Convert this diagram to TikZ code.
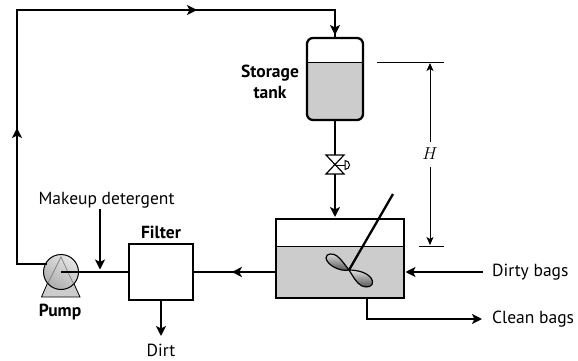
\documentclass[tikz,border=0pt]{standalone}
\usepackage{fontspec}
\setsansfont{PT Sans}
\usetikzlibrary{arrows.meta,decorations.markings,calc}
\definecolor{liquid}{gray}{0.8}
\tikzset{
  x=1pt,y=-1pt,
  pipe/.style={line width=2.3pt,draw=black},
  thin pipe/.style={line width=1.2pt,draw=black},
  tipend/.style={-{Stealth[length=10pt,width=10pt,inset=2.5pt]}},
  midtip/.style={postaction={decorate},decoration={markings,mark=at position #1 with {\arrow{Stealth[length=10pt,width=10pt,inset=2.5pt]}}}},
  vessel/.style={draw=black,line width=2.3pt},
  lobe/.style={shading=axis,top color=white!88!black,bottom color=black!70,draw=black,line width=1.2pt},
  lab/.style={font=\sffamily\fontsize{17.5}{20}\selectfont,inner sep=0pt},
  blab/.style={font=\sffamily\bfseries\fontsize{17.5}{21}\selectfont,inner sep=0pt,align=center},
}
\begin{document}
\begin{tikzpicture}
\useasboundingbox (0,0) rectangle (578,361);
% storage tank
\fill[liquid,rounded corners=6pt] (307,62) -- (363,62) -- (363,120) -- (307,120) -- cycle;
\fill[liquid] (307,62) rectangle (363,75);
\node[vessel,minimum width=56pt,minimum height=82pt,rounded corners=6pt,inner sep=0pt] (tank) at (335,79) {};
\coordinate (tankL) at (307,62); \coordinate (tankR) at (363,62);
\draw[line width=.8pt] (tankL) -- (tankR);
% washer
\fill[liquid] (276,246) rectangle (404,298);
\node[vessel,minimum width=128pt,minimum height=79pt,inner sep=0pt] (tub) at (340,258.5) {};
\coordinate (tubL) at (276,246); \coordinate (tubR) at (404,246);
\draw[line width=.8pt] (tubL) -- (tubR);
% filter
\coordinate (pumpC) at (61,272);
\node[draw=black,line width=1.3pt,fill=white,minimum width=64pt,minimum height=56pt,inner sep=0pt] (filter) at (161,272) {};
% pump base + body
\fill[liquid,draw=black,line width=.8pt] (41.5,297) -- (80,297) -- (70,275) -- (51,275) -- cycle;
\node[circle,draw=black,line width=1pt,minimum size=35pt,inner sep=0pt,shading=axis,top color=white!90!black,bottom color=white!68!black,shading angle=-35] (pump) at (pumpC) {};
\draw[gray,line width=.7pt] (48,283) -- (61,257) -- (73,283);
% valve
\coordinate (valve) at (335,165);
\draw[line width=1.2pt,fill=white] (326,155) -- (344,155) -- (326,174) -- (344,174) -- cycle;
\draw[line width=.9pt] (valve) -- (345,165);
\draw[line width=1pt] (345,160.5) arc (90:-90:4.5pt) -- cycle;
% piping
\coordinate (topcorner) at (17,10);
\coordinate (leftturn) at (17,264);
\coordinate (topright) at (335,10);
\coordinate (pumpout) at (46.5,264);
\coordinate (uptip) at (17,128);
\coordinate (toptip) at (197,10);
\draw[pipe] (pumpout) -- (leftturn) -- (topcorner) -- (topright) -- (tank.north);
\draw[pipe,tipend] (17,140) -- (uptip);
\draw[pipe,tipend] (185,10) -- (toptip);
\draw[pipe,tipend] (335,20) -- (335,35);
\draw[pipe] (tank.south) -- (335,155);
\draw[pipe,tipend] (335,174) -- (335,217);
\draw[pipe] (pumpC) -- (filter.west);
\draw[pipe,midtip=0.53] (tub.west |- pumpC) -- (filter.east);
\draw[pipe,tipend] (filter.south) -- (161,336);
\draw[thin pipe,tipend] (100,209) -- (100,269.5);
\coordinate (dirtyend) at (483,272);
\draw[pipe,tipend] (dirtyend) -- (405.5,272);
\coordinate (cleanend) at (482,319);
\draw[pipe,tipend] (367,298) -- (367,319) -- (cleanend);
% agitator
\coordinate (hub) at (349,270);
\draw[line width=2.3pt] (hub) -- (393,194);
\path[lobe]
  (349,270) .. controls (340,272) and (327,265) .. (326,258) .. controls (326,253) and (333,253) .. (337,256) .. controls (342,260) and (345,265) .. (349,270) -- cycle;
\path[lobe]
  (349,270) .. controls (358,270) and (370,273) .. (372.5,281) .. controls (373.5,287) and (367,288) .. (362,286) .. controls (356,283) and (353,276) .. (349,270) -- cycle;
% H dimension
\coordinate (Ht1) at (377,62); \coordinate (Ht2) at (444,62);
\coordinate (Hb1) at (419,246); \coordinate (Hb2) at (444,246);
\draw[line width=.8pt] (Ht1) -- (Ht2);
\draw[line width=.8pt] (Hb1) -- (Hb2);
\node[inner sep=0pt,font=\fontsize{18}{18}\selectfont] (H) at (430,154) {$H$};
\draw[line width=.9pt,-{Stealth[length=8pt,width=7pt,inset=2pt]}] (430,142) -- (430,63);
\draw[line width=.9pt,-{Stealth[length=8pt,width=7pt,inset=2pt]}] (430,167) -- (430,245);
% labels
\node[blab] (storage) at (270,81.5) {Storage\\tank};
\node[blab] (filterlab) at (161,232) {Filter};
\node[blab] (pumplab) at (60,312) {Pump};
\node[lab] (makeup) at (106.5,200) {Makeup detergent};
\node[lab] (dirt) at (161,350) {Dirt};
\node[lab,anchor=west] (dirty) at (492,272) {Dirty bags};
\node[lab,anchor=west] (clean) at (492,319) {Clean bags};
\end{tikzpicture}
\end{document}
